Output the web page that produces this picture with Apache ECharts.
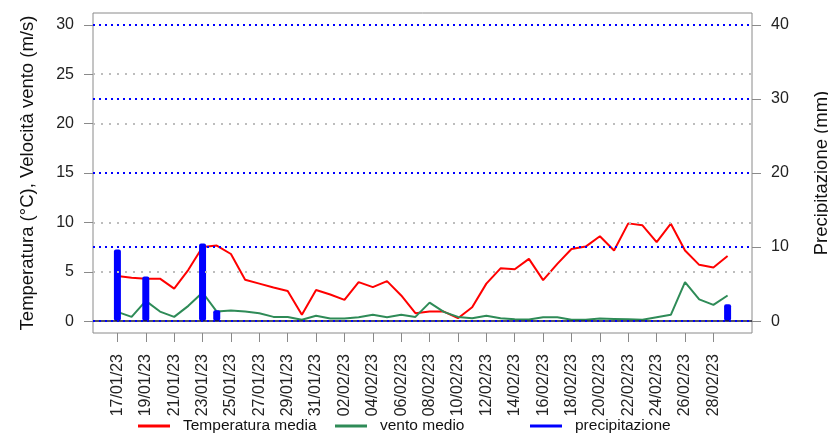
<!DOCTYPE html>
<html lang="it">
<head>
    <meta charset="UTF-8">
    <title>Temperatura, vento, precipitazione</title>
    <script src="https://cdn.jsdelivr.net/npm/echarts@6/dist/echarts.min.js"></script>
    <style>
        html, body { margin: 0; padding: 0; background: #fff; }
        #chart { width: 828px; height: 436px; }
    </style>
</head>
<body>
<div id="chart"></div>
<script type="text/javascript">
    // dati giornalieri 17/01/23 - 01/03/23
    var dates = [
        '17/01/23','18/01/23','19/01/23','20/01/23','21/01/23','22/01/23','23/01/23','24/01/23',
        '25/01/23','26/01/23','27/01/23','28/01/23','29/01/23','30/01/23','31/01/23','01/02/23',
        '02/02/23','03/02/23','04/02/23','05/02/23','06/02/23','07/02/23','08/02/23','09/02/23',
        '10/02/23','11/02/23','12/02/23','13/02/23','14/02/23','15/02/23','16/02/23','17/02/23',
        '18/02/23','19/02/23','20/02/23','21/02/23','22/02/23','23/02/23','24/02/23','25/02/23',
        '26/02/23','27/02/23','28/02/23','01/03/23'
    ];
    var tempMedia = [4.56,4.4,4.3,4.3,3.3,5.2,7.5,7.65,6.8,4.2,3.8,3.4,3.05,0.65,3.15,2.7,2.15,3.95,3.45,4.05,
        2.6,0.8,0.97,0.97,0.3,1.4,3.8,5.35,5.25,6.3,4.15,5.8,7.3,7.55,8.6,7.15,9.9,9.7,8.0,9.87,7.15,5.7,5.44,6.6];
    var ventoMedio = [0.94,0.43,2.05,0.97,0.43,1.55,2.9,0.97,1.07,0.97,0.8,0.43,0.43,0.15,0.54,0.26,0.26,0.4,0.64,0.4,
        0.64,0.43,1.88,0.94,0.43,0.3,0.54,0.3,0.2,0.17,0.4,0.4,0.15,0.15,0.26,0.23,0.2,0.15,0.4,0.64,3.96,2.2,1.65,2.6];
    var precipitazione = [9.66,0,6.04,0,0,0,10.47,1.48,0,0,0,0,0,0,0,0,0,0,0,0,
        0,0,0,0,0,0,0,0,0,0,0,0,0,0,0,0,0,0,0,0,0,0,0,2.28];
    var xTicks = [0,2,4,6,8,10,12,14,16,18,20,22,24,26,28,30,32,34,36,38,40,42];
    var leftTicks = [0,5,10,15,20,25,30];
    var rightTicks = [0,10,20,30,40];

    var font = 'Liberation Sans, Arial, sans-serif';
    function pairs(arr) {
        return arr.map(function (v, i) { return [i, v]; });
    }

    var myChart = echarts.init(document.getElementById('chart'));

    var grayLines = leftTicks.filter(function (v) { return v % 15 !== 0; }).map(function (v) {
        return { yAxis: v };
    });
    var blueLines = rightTicks.map(function (v) { return { yAxis: v }; });

    function legendAt(name, left) {
        return {
            data: [name], left: left, top: 418, padding: 0,
            icon: 'rect', itemWidth: 32, itemHeight: 3,
            textStyle: { fontFamily: font, fontSize: 15.5, color: '#111', padding: [0, 0, 0, 8] }
        };
    }

    myChart.setOption({
        animation: false,
        grid: {
            left: 93, top: 13, right: 76, bottom: 103,
            outerBoundsMode: 'none', containLabel: false,
            show: true, borderColor: '#8a8a8a', borderWidth: 1
        },
        legend: [
            legendAt('Temperatura media', 138),
            legendAt('vento medio', 335),
            legendAt('precipitazione', 530)
        ],
        xAxis: {
            type: 'value', min: -1.72, max: 44.72,
            axisLine: { show: false, onZero: false },
            splitLine: { show: false },
            axisTick: { show: true, customValues: xTicks, length: 9, lineStyle: { color: '#8a8a8a' } },
            axisLabel: {
                customValues: xTicks, rotate: 90, margin: 21,
                fontFamily: font, fontSize: 16, color: '#222',
                formatter: function (v) { return dates[Math.round(v)]; }
            }
        },
        yAxis: [
            {
                type: 'value', min: -1.2, max: 31.2,
                name: 'Temperatura (°C), Velocità vento (m/s)',
                nameLocation: 'middle', nameRotate: 90, nameGap: 56,
                nameTextStyle: { fontFamily: font, fontSize: 18.5, color: '#111' },
                axisLine: { show: false, onZero: false },
                splitLine: { show: false },
                axisTick: { show: true, customValues: leftTicks, length: 9, lineStyle: { color: '#8a8a8a' } },
                axisLabel: { customValues: leftTicks, margin: 19, fontFamily: font, fontSize: 16, color: '#222' }
            },
            {
                type: 'value', min: -1.6, max: 41.6, position: 'right',
                name: 'Precipitazione (mm)',
                nameLocation: 'middle', nameRotate: 90, nameGap: 60,
                nameTextStyle: { fontFamily: font, fontSize: 18.5, color: '#111' },
                axisLine: { show: false, onZero: false },
                splitLine: { show: false },
                axisTick: { show: true, customValues: rightTicks, length: 9, lineStyle: { color: '#8a8a8a' } },
                axisLabel: { customValues: rightTicks, margin: 19, fontFamily: font, fontSize: 16, color: '#222' }
            }
        ],
        series: [
            {
                // griglia grigia
                name: 'grid-gray', type: 'line', data: [], z: 1, silent: true,
                markLine: {
                    silent: true, symbol: 'none', label: { show: false },
                    lineStyle: { color: '#bdbdbd', type: [2, 6], width: 2 },
                    data: grayLines
                }
            },
            {
                // griglia blu (scala precipitazione)
                name: 'grid-blue', type: 'line', data: [], yAxisIndex: 1, z: 2, silent: true,
                markLine: {
                    silent: true, symbol: 'none', label: { show: false },
                    data: [
                        { yAxis: 0, lineStyle: { color: '#1a1a2e', type: 'solid', width: 1.5 } }
                    ].concat(blueLines.map(function (d) {
                        return { yAxis: d.yAxis, lineStyle: { color: '#0000ff', type: [2, 4], width: 2 } };
                    }))
                }
            },
            {
                name: 'Temperatura media', type: 'line', data: pairs(tempMedia),
                showSymbol: false, z: 3, color: '#ff0000',
                lineStyle: { color: '#ff0000', width: 2 }
            },
            {
                name: 'vento medio', type: 'line', data: pairs(ventoMedio),
                showSymbol: false, z: 3, color: '#2e8b57',
                lineStyle: { color: '#2e8b57', width: 2 }
            },
            {
                name: 'precipitazione', type: 'bar', yAxisIndex: 1, data: pairs(precipitazione),
                barWidth: 7, z: 4, color: '#0000ff',
                itemStyle: { color: '#0000ff', borderRadius: [2, 2, 3, 3] }
            }
        ]
    });
</script>
</body>
</html>
